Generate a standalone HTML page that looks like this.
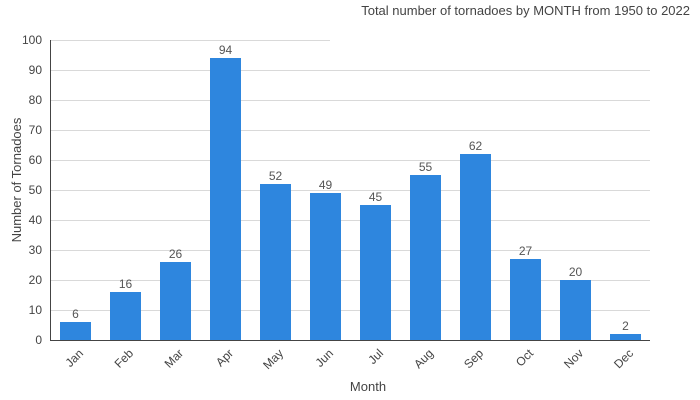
<!DOCTYPE html>
<html><head><meta charset="utf-8"><style>
body{margin:0;background:#fff}
svg{display:block;font-family:"Liberation Sans","DejaVu Sans",sans-serif;}
</style></head><body>
<svg width="700" height="400" xmlns="http://www.w3.org/2000/svg">
<g stroke="#d9d9d9" stroke-width="1">
<line x1="50" x2="650" y1="310.5" y2="310.5"/>
<line x1="50" x2="650" y1="280.5" y2="280.5"/>
<line x1="50" x2="650" y1="250.5" y2="250.5"/>
<line x1="50" x2="650" y1="220.5" y2="220.5"/>
<line x1="50" x2="650" y1="190.5" y2="190.5"/>
<line x1="50" x2="650" y1="160.5" y2="160.5"/>
<line x1="50" x2="650" y1="130.5" y2="130.5"/>
<line x1="50" x2="650" y1="100.5" y2="100.5"/>
<line x1="50" x2="650" y1="70.5" y2="70.5"/>
<line x1="50" x2="330" y1="40.5" y2="40.5"/>
</g>
<line x1="50" x2="650" y1="340.5" y2="340.5" stroke="#444"/>
<line x1="50.5" x2="50.5" y1="40" y2="340" stroke="#444"/>
<g fill="#444" font-size="12" text-anchor="end">
<text x="42" y="344">0</text><text x="42" y="314">10</text><text x="42" y="284">20</text>
<text x="42" y="254">30</text><text x="42" y="224">40</text><text x="42" y="194">50</text>
<text x="42" y="164">60</text><text x="42" y="134">70</text><text x="42" y="104">80</text>
<text x="42" y="74">90</text><text x="42" y="44">100</text>
</g>
<g fill="#2e86de">
<rect x="60" y="322" width="31" height="18"/>
<rect x="110" y="292" width="31" height="48"/>
<rect x="160" y="262" width="31" height="78"/>
<rect x="210" y="58" width="31" height="282"/>
<rect x="260" y="184" width="31" height="156"/>
<rect x="310" y="193" width="31" height="147"/>
<rect x="360" y="205" width="31" height="135"/>
<rect x="410" y="175" width="31" height="165"/>
<rect x="460" y="154" width="31" height="186"/>
<rect x="510" y="259" width="31" height="81"/>
<rect x="560" y="280" width="31" height="60"/>
<rect x="610" y="334" width="31" height="6"/>
</g>
<g fill="#555" font-size="12" text-anchor="middle">
<text x="75.5" y="318">6</text><text x="125.5" y="288">16</text><text x="175.5" y="258">26</text>
<text x="225.5" y="54">94</text><text x="275.5" y="180">52</text><text x="325.5" y="189">49</text>
<text x="375.5" y="201">45</text><text x="425.5" y="171">55</text><text x="475.5" y="150">62</text>
<text x="525.5" y="255">27</text><text x="575.5" y="276">20</text><text x="625.5" y="330">2</text>
</g>
<g fill="#444" font-size="12" text-anchor="end">
<text transform="translate(84,354) rotate(-45)">Jan</text>
<text transform="translate(134,354) rotate(-45)">Feb</text>
<text transform="translate(184,354) rotate(-45)">Mar</text>
<text transform="translate(234,354) rotate(-45)">Apr</text>
<text transform="translate(284,354) rotate(-45)">May</text>
<text transform="translate(334,354) rotate(-45)">Jun</text>
<text transform="translate(384,354) rotate(-45)">Jul</text>
<text transform="translate(434,354) rotate(-45)">Aug</text>
<text transform="translate(484,354) rotate(-45)">Sep</text>
<text transform="translate(534,354) rotate(-45)">Oct</text>
<text transform="translate(584,354) rotate(-45)">Nov</text>
<text transform="translate(634,354) rotate(-45)">Dec</text>
</g>
<text x="368" y="391" fill="#444" font-size="13" text-anchor="middle">Month</text>
<text transform="translate(21,180) rotate(-90)" fill="#444" font-size="13" text-anchor="middle">Number of Tornadoes</text>
<text x="690" y="15" fill="#444" font-size="13" text-anchor="end">Total number of tornadoes by MONTH from 1950 to 2022</text>
</svg>
</body></html>
